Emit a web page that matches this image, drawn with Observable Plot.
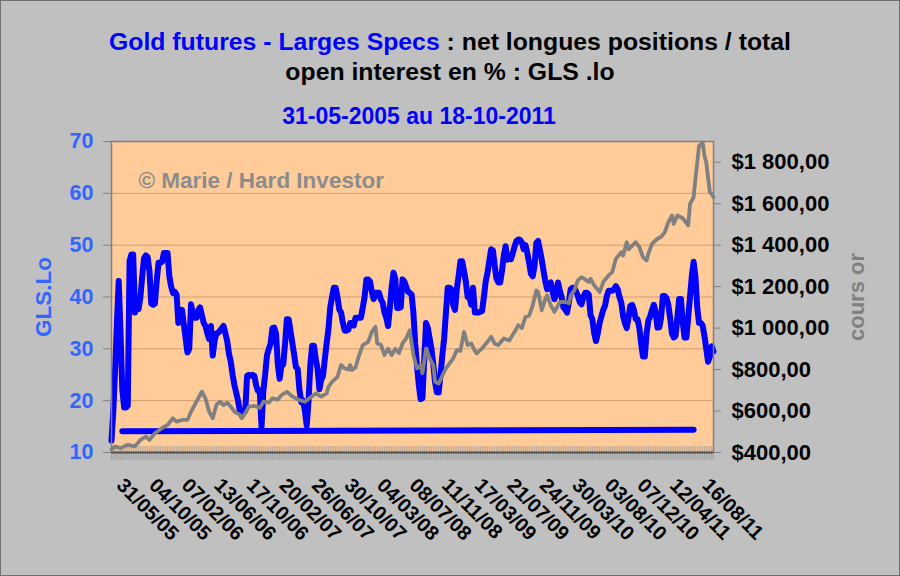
<!DOCTYPE html>
<html><head><meta charset="utf-8">
<script src="https://cdn.jsdelivr.net/npm/d3@7"></script>
<script src="https://cdn.jsdelivr.net/npm/@observablehq/plot@0.6"></script>
<style>
html,body{margin:0;padding:0;background:#c0c0c0;}
#chart{position:relative;width:900px;height:576px;background:#c0c0c0;box-shadow:inset 0 0 0 1px #707070;overflow:hidden;font-family:"Liberation Sans",Arial,Helvetica,sans-serif;}
.t{position:absolute;font-weight:bold;white-space:nowrap;line-height:30px;color:#000;}
.b{color:#0000ff;}
#plot{position:absolute;left:0;top:125px;}
</style></head><body>
<div id="chart">
  <div class="t" style="left:0;width:900px;text-align:center;top:27px;font-size:24.8px;"><span class="b">Gold futures - Larges Specs</span> : net longues positions / total</div>
  <div class="t" style="left:0;width:900px;text-align:center;top:57px;font-size:24.8px;">open interest en % : GLS .lo</div>
  <div class="t b" style="left:119px;width:600px;text-align:center;top:101px;font-size:23px;">31-05-2005 au 18-10-2011</div>
  <div id="plot"></div>
</div>
<script>
// ---- data ----
const startDate = "2005-05-31";
const nWeeks = 334;
// GLS.Lo (net long / open interest, %), one value per week from 31/05/05
const glsValues = [
  12.3, 18, 26, 35, 43.1, 33, 22, 18.7, 18.7, 19,
  47, 48.2, 48.2, 37, 38, 37.7, 40, 44, 47.5, 48,
  47.7, 45, 38.7, 38.5, 38.7, 43, 46.6, 46.6, 46.8, 48.5,
  48.5, 48.5, 44, 42, 40.8, 41, 40.5, 35, 37, 37.5,
  34.7, 32, 29.3, 30, 38.6, 36.5, 36, 36, 37.5, 38,
  36.5, 35, 34.4, 33, 31.9, 34.4, 28.7, 31.5, 33, 33.1,
  33.5, 34, 34.4, 33, 31.5, 29, 27.5, 25, 23, 21.5,
  20, 18, 17.8, 17.8, 18, 24.8, 25, 24.8, 25, 24.8,
  23, 21.9, 22, 15, 21.9, 25, 28.7, 30, 31, 34,
  34.1, 33, 27, 24.2, 26.7, 27, 31, 35.7, 35.7, 33.5,
  31.2, 29, 26.5, 26.1, 22, 19.7, 20, 18, 15.2, 20,
  27, 30.6, 30.6, 28, 26.1, 22.2, 24, 24.8, 28, 31,
  33.8, 38, 40, 41.8, 41.8, 40, 37.6, 37, 35, 33.5,
  33.5, 33.7, 35, 35, 34.5, 36, 36, 36, 36, 38,
  40, 43.4, 43.4, 43, 41, 39.6, 40.8, 40.8, 40.8, 39.5,
  38.9, 37, 36, 34.4, 38, 42, 44.7, 43.5, 37.9, 37.9,
  38, 43.4, 43, 42, 41, 40.8, 40.5, 37, 31, 26.7,
  23, 20.3, 20.5, 28, 35, 34, 32, 30, 27, 23.5,
  21.6, 21.6, 25, 28.7, 32, 37, 41.8, 41.8, 41.5, 38.5,
  37.5, 41.5, 44, 46.9, 46.9, 45, 43, 40, 40, 38.5,
  41.8, 37, 37, 37, 37.2, 37.3, 40, 43, 44.7, 47,
  49.2, 49, 46, 43.5, 42.8, 42.8, 45, 48, 49.8, 47.2,
  47.5, 47.3, 48.5, 49.8, 50.8, 51.1, 51, 50.5, 49.2, 50,
  48.5, 46.6, 44.5, 44, 46, 50.4, 50.8, 49, 47.2, 45,
  43, 41.5, 42.5, 42.8, 41, 39.6, 40.5, 42.8, 41.2, 40,
  38, 37.6, 37, 39, 41.5, 41.8, 41.8, 41, 40.2, 39,
  38.6, 40, 40.8, 40.8, 40.5, 36.5, 35.7, 33, 31.5, 33,
  35, 36.3, 37.5, 38.3, 40.2, 41.2, 41.2, 41.2, 41.5, 42.1,
  41.5, 40, 38.9, 36.3, 35, 34, 36, 38.3, 38.5, 37.5,
  35.7, 35.7, 34, 31, 28.5, 28.5, 33, 35.5, 36.3, 37.5,
  38.5, 37, 34.1, 34.1, 36, 40.2, 40.2, 39.8, 38.5, 36,
  33, 32.2, 32.5, 36, 39.6, 39.6, 35, 32.2, 32.2, 36,
  40, 44, 46.8, 44, 38, 35, 35, 34.5, 32.5, 30,
  27.5, 28.5, 30.5, 29.5
];
// gold price (cours or, $), week number since 31/05/05 and value
const goldWeeks = [0,2,5,9,13,16,19,21,24,28,31,34,36,39,42,44,47,50,52,54,56,58,60,62,64,66,68,71,72,74,76,79,82,84,87,89,92,94,97,100,102,105,107,110,113,116,119,120,122,125,127,129,131,132,133,135,137,139,142,144,146,147,149,151,153,155,157,159,161,163,165,166,167,169,171,172,174,176,178,179,181,183,185,187,189,191,193,195,197,199,201,202,205,208,210,212,214,217,220,223,225,227,229,231,233,235,236,238,240,241,243,245,247,248,251,253,254,256,258,260,262,264,265,267,270,272,275,277,279,282,283,285,286,288,290,292,294,296,297,299,302,304,306,308,310,311,313,316,319,320,322,323,325,327,328,329,331,332,333];
const goldValues = [415,429,421,437,430,461,477,461,493,517,533,565,549,557,557,597,645,693,661,597,565,629,645,629,640,621,597,581,565,590,621,625,615,645,640,661,655,677,693,670,661,650,645,665,685,670,685,717,741,765,822,806,800,822,798,810,870,918,934,982,1006,926,920,870,900,870,900,880,926,950,990,930,870,806,820,782,902,854,820,741,733,770,806,830,854,894,890,982,918,926,890,878,902,934,958,925,918,950,940,982,1014,1000,1054,1060,1110,1182,1175,1086,1142,1158,1110,1078,1110,1126,1126,1120,1158,1182,1230,1246,1235,1222,1238,1206,1174,1222,1254,1270,1334,1366,1350,1414,1380,1398,1414,1390,1342,1326,1360,1406,1431,1440,1462,1510,1543,1503,1543,1530,1495,1599,1631,1719,1879,1895,1831,1799,1655,1647,1631];
// flat blue reference line
const baseWeeks = [6, 322];
const baseValues = [14.1, 14.4];
// axes
const leftTicks = [10, 20, 30, 40, 50, 60, 70];
const gridTicks = [20, 30, 40, 50, 60];
const goldTicks = [400, 600, 800, 1000, 1200, 1400, 1600, 1800];
const goldDomain = [400, 1900];
const leftDomain = [10, 70];
const dateLabels = ["31/05/05","04/10/05","07/02/06","13/06/06","17/10/06","20/02/07","26/06/07","30/10/07","04/03/08","08/07/08","11/11/08","17/03/09","21/07/09","24/11/09","30/03/10","03/08/10","07/12/10","12/04/11","16/08/11"];
const titleY = "GLS.Lo";
const titleY2 = "cours or";
const watermark = "\u00a9 Marie / Hard Investor";

// ---- helpers ----
const t0 = d3.utcParse("%Y-%m-%d")(startDate);
const wk = w => d3.utcDay.offset(t0, 7 * w);
const parseLbl = d3.utcParse("%d/%m/%y");
// secondary (gold) axis mapped onto the primary scale
const g2l = d3.scaleLinear().domain(goldDomain).range(leftDomain);
const fmtGold = v => "$" + (v >= 1000 ? Math.floor(v / 1000) + " " + String(v % 1000).padStart(3, "0") : v) + ",00";

const gls = glsValues.map((v, i) => ({date: wk(i), v}));
const gold = goldWeeks.map((w, i) => ({date: wk(w), v: g2l(goldValues[i])}));
const base = baseWeeks.map((w, i) => ({date: wk(w), v: baseValues[i]}));
const weekDates = d3.range(nWeeks).map(wk);

const font = "'Liberation Sans', Arial, Helvetica, sans-serif";

const chart = Plot.plot({
  width: 900,
  height: 451,
  marginTop: 16,
  marginBottom: 124,
  marginLeft: 111,
  marginRight: 187,
  style: {background: "transparent", fontFamily: font, overflow: "visible"},
  x: {type: "utc", domain: [wk(0), wk(nWeeks - 1)], label: null, axis: null},
  y: {domain: leftDomain, label: null},
  marks: [
    Plot.frame({fill: "#ffcc99", stroke: "none"}),
    Plot.gridY(gridTicks, {stroke: "#cf9f70", strokeOpacity: 1, strokeWidth: 1}),
    // weekly category ticks crossing the bottom axis
    Plot.ruleX(weekDates, {x: d => d, y1: () => leftDomain[0], y2: () => leftDomain[0], insetTop: -6, insetBottom: -8, stroke: "#9a9a9a", strokeWidth: 0.7}),
    Plot.line(gls, {x: "date", y: "v", stroke: "#0000ff", strokeWidth: 6, strokeLinejoin: "round"}),
    Plot.line(base, {x: "date", y: "v", stroke: "#0000ff", strokeWidth: 6}),
    Plot.line(gold, {x: "date", y: "v", stroke: "#808080", strokeWidth: 3.8, strokeLinejoin: "round"}),
    Plot.frame({stroke: "#808080", strokeWidth: 1.5}),
    Plot.ruleY([leftDomain[0]], {stroke: "#555", strokeWidth: 2}),
    Plot.axisY(leftTicks, {anchor: "left", tickSize: 8, tickPadding: 10, fontSize: 21.5, fontWeight: "bold", fill: "#3366ff", stroke: "#808080", label: null}),
    Plot.axisY(goldTicks.map(g2l), {anchor: "right", tickSize: 7, tickPadding: 11, tickFormat: v => fmtGold(Math.round(g2l.invert(v))), fontSize: 22, fontWeight: "bold", fill: "#000", stroke: "#808080", label: null}),
    Plot.text(dateLabels, {x: d => parseLbl(d), text: d => d, frameAnchor: "bottom", rotate: 45, textAnchor: "start", lineAnchor: "top", dx: 14, dy: 24, fontSize: 20, fontWeight: "bold", fill: "#000"}),
    Plot.text([titleY], {frameAnchor: "left", dx: -68, rotate: -90, textAnchor: "middle", fill: "#3366ff", fontSize: 22.5, fontWeight: "bold"}),
    Plot.text([titleY2], {frameAnchor: "right", dx: 143, rotate: -90, textAnchor: "middle", fill: "#808080", fontSize: 22, fontWeight: "bold"}),
    Plot.text([watermark], {frameAnchor: "top-left", dx: 27, dy: 31, textAnchor: "start", fill: "#8c8c8c", fontSize: 22.5, fontWeight: "bold"})
  ]
});
document.getElementById("plot").appendChild(chart);
</script>
</body></html>
